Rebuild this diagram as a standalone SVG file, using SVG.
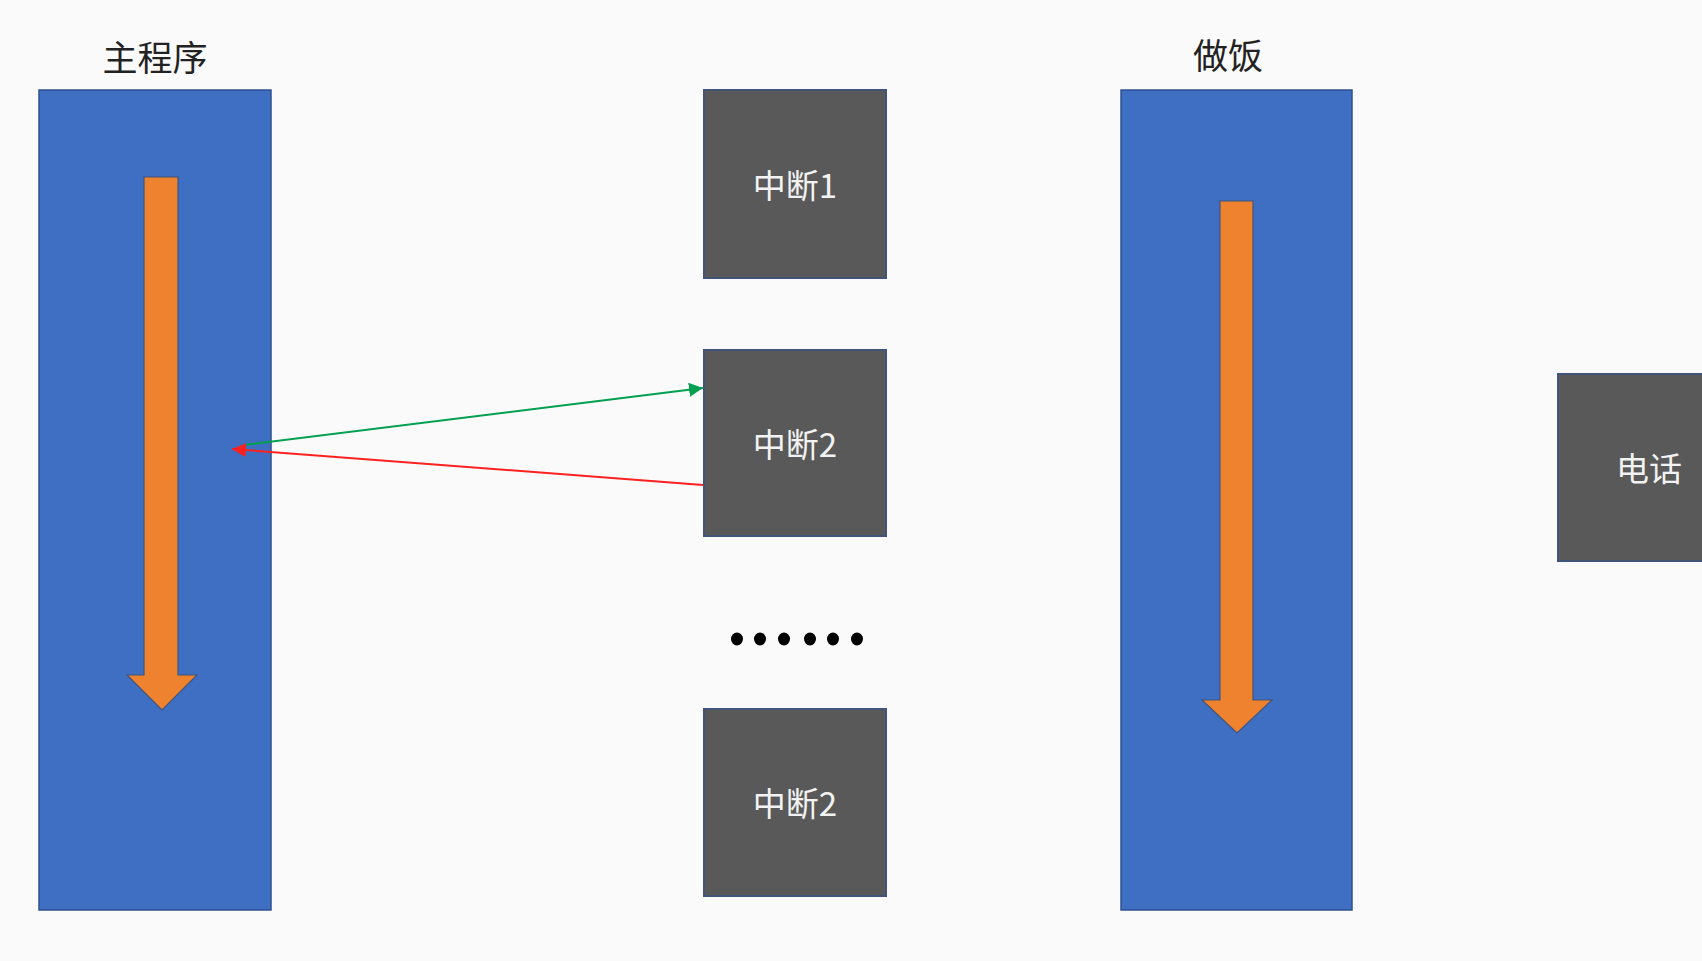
<svg xmlns="http://www.w3.org/2000/svg" width="1702" height="961" viewBox="0 0 1702 961">
<style>
.bg{fill:#fafafa}
.lane{fill:#3f6fc2;stroke:#2f528f;stroke-width:1.5}
.flow{fill:#ee822f;stroke:#41557a;stroke-width:1.2}
.box{fill:#595959;stroke:#41557a;stroke-width:2}
.title{font-family:"Noto Sans CJK SC","Noto Sans",sans-serif;font-size:35px;fill:#222;text-anchor:middle}
.label{font-family:"Noto Sans CJK SC","Noto Sans",sans-serif;font-size:33px;fill:#f2f2f2;text-anchor:middle;dominant-baseline:central}
</style>
<defs>
<marker id="ag" viewBox="0 0 10 10" refX="10" refY="5" markerWidth="7" markerHeight="7" orient="auto" markerUnits="strokeWidth"><path d="M0,0 L10,5 L0,10 z" fill="#00a050"/></marker>
<marker id="ar" viewBox="0 0 10 10" refX="10" refY="5" markerWidth="7" markerHeight="7" orient="auto" markerUnits="strokeWidth"><path d="M0,0 L10,5 L0,10 z" fill="#ff2020"/></marker>
</defs>
<rect class="bg" x="0" y="0" width="1702" height="961"/>
<g id="main">
<rect class="lane" x="39" y="90" width="232" height="820"/>
<text class="title" x="155" y="71">主程序</text>
<path class="flow" d="M144,177 H178 V675 H197 L162,710 L127,675 H144 Z"/>
</g>
<g id="cook">
<rect class="lane" x="1121" y="90" width="231" height="820"/>
<text class="title" x="1228" y="69">做饭</text>
<path class="flow" d="M1220,201 H1253 V700 H1272 L1237,733 L1202,700 H1220 Z"/>
</g>
<g id="int1">
<rect class="box" x="704" y="90" width="182" height="188"/>
<text class="label" x="795" y="184">中断1</text>
</g>
<g id="int2">
<rect class="box" x="704" y="350" width="182" height="186"/>
<text class="label" x="795" y="443">中断2</text>
</g>
<g id="dots" fill="#000">
<ellipse cx="737" cy="639" rx="6" ry="6.5"/>
<ellipse cx="760" cy="639" rx="6" ry="6.5"/>
<ellipse cx="784" cy="639" rx="6" ry="6.5"/>
<ellipse cx="810" cy="639" rx="6" ry="6.5"/>
<ellipse cx="833" cy="639" rx="6" ry="6.5"/>
<ellipse cx="857" cy="639" rx="6" ry="6.5"/>
</g>
<g id="int3">
<rect class="box" x="704" y="709" width="182" height="187"/>
<text class="label" x="795" y="802">中断2</text>
</g>
<g id="phone">
<rect class="box" x="1558" y="374" width="150" height="187"/>
<text class="label" x="1649" y="467">电话</text>
</g>
<g id="connectors" fill="none" stroke-width="2">
<line x1="244" y1="445" x2="703" y2="388" stroke="#00a050" marker-end="url(#ag)"/>
<line x1="703" y1="485" x2="232" y2="449" stroke="#ff2020" marker-end="url(#ar)"/>
</g>
</svg>
